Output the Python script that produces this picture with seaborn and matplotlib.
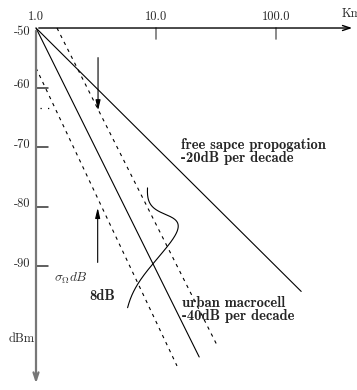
import numpy as np
import matplotlib
matplotlib.use("Agg")
import matplotlib.pyplot as plt
import seaborn as sns

# x is log10(distance / km), y is received power in dBm
x_tick_pos = [0.0, 1.0, 2.0]
x_tick_labels = ["1.0", "10.0", "100.0"]
y_tick_vals = [-50, -60, -70, -80, -90]

free_space_x = [0.0, 2.21]
free_space_y = [-50.0, -94.2]
urban_x = [0.0, 1.36]
urban_y = [-50.0, -105.2]
urban_hi_x = [0.175, 1.508]
urban_hi_y = [-50.0, -103.2]
urban_lo_x = [0.0, 1.175]
urban_lo_y = [-56.7, -106.7]

# shadowing pdf drawn across the urban lines
pdf_base_start = (0.922, -76.9)
pdf_base_end = (0.756, -97.0)
pdf_peak_offset = (0.345, 3.4)
pdf_sigma = 0.18

# spread arrows (x, y_from, y_to)
arrow_down = (0.517, -54.5, -64.3)
arrow_up = (0.514, -89.8, -79.7)

sns.set_theme(style="white")
plt.rcParams["font.family"] = ["cmr10", "DejaVu Serif"]
plt.rcParams["mathtext.fontset"] = "cm"
plt.rcParams["axes.unicode_minus"] = False

fig = plt.figure(figsize=(3.57, 3.90), dpi=100)
ax = fig.add_axes([0, 0, 1, 1])
ax.set_xlim(-0.3, 2.675)
ax.set_ylim(-110.74, -45.30)
ax.axis("off")

# axes with arrows
ax.annotate("", xy=(2.658, -50), xytext=(0, -50),
            arrowprops=dict(arrowstyle="->,head_length=0.45,head_width=0.15", color="black", lw=1.0))
ax.annotate("", xy=(0, -110.1), xytext=(0, -50),
            arrowprops=dict(arrowstyle="->,head_length=0.45,head_width=0.15", color="#777777", lw=1.6))

for xt in x_tick_pos[1:]:
    ax.plot([xt, xt], [-50, -51.85], color="#777777", lw=1.2)
for xt, lab in zip(x_tick_pos, x_tick_labels):
    ax.text(xt, -48.66, lab, ha="center", va="baseline", fontsize=9)
ax.text(2.547, -48.07, "Km", ha="left", va="baseline", fontsize=9)

for yv in y_tick_vals:
    if yv != -50:
        ax.plot([0, 0.1], [yv, yv], color="#333333", lw=1.1)
        ax.text(-0.046, yv + 0.42, str(yv), ha="right", va="center", fontsize=9)
    else:
        ax.text(-0.046, yv - 0.59, str(yv), ha="right", va="center", fontsize=9)

# path loss lines
sns.lineplot(x=free_space_x, y=free_space_y, ax=ax, color="black", lw=0.8)
sns.lineplot(x=urban_x, y=urban_y, ax=ax, color="black", lw=0.8)
sns.lineplot(x=urban_hi_x, y=urban_hi_y, ax=ax, color="black", lw=0.8, linestyle=(0, (3, 4)))
sns.lineplot(x=urban_lo_x, y=urban_lo_y, ax=ax, color="black", lw=0.8, linestyle=(0, (3, 4)))
ax.plot([0.033, 0.133], [-63.42, -63.42], color="black", lw=0.9, linestyle=(0, (1, 5)))

# gaussian shadowing curve
t = np.linspace(0, 1, 200)
g = np.exp(-0.5 * ((t - 0.5) / pdf_sigma) ** 2)
cx = pdf_base_start[0] + t * (pdf_base_end[0] - pdf_base_start[0]) + g * pdf_peak_offset[0]
cy = pdf_base_start[1] + t * (pdf_base_end[1] - pdf_base_start[1]) + g * pdf_peak_offset[1]
sns.lineplot(x=cx, y=cy, ax=ax, color="black", lw=0.8, sort=False, estimator=None)

for ax_, y0, y1 in [arrow_down, arrow_up]:
    ax.annotate("", xy=(ax_, y1), xytext=(ax_, y0),
                arrowprops=dict(arrowstyle="-|>,head_length=0.5,head_width=0.12", color="black", lw=0.8))

# labels
bold = dict(family="cmb10", fontsize=10.5, va="baseline")
ax.text(1.206, -70.3, "free sapce propogation", **bold)
ax.text(1.208, -72.48, "-20dB per decade", **bold)
ax.text(1.214, -96.76, "urban macrocell", **bold)
ax.text(1.214, -98.99, "-40dB per decade", **bold)
ax.text(0.444, -95.64, "8dB", **bold)
ax.text(0.1525, -91.95, r"$\sigma_\Omega dB$", fontsize=9.5, va="center", color="#333333")
ax.text(-0.231, -102.68, "dBm", fontsize=9, va="baseline")

fig.savefig("out.png", dpi=100)
